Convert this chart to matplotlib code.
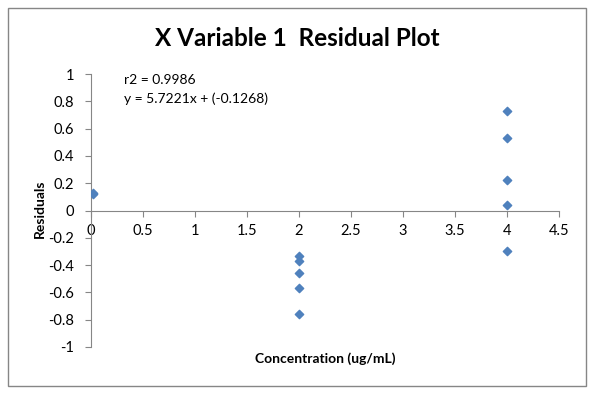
import matplotlib.pyplot as plt
from matplotlib.patches import Rectangle

plt.rcParams['font.family'] = ['Lato', 'DejaVu Sans']

# data
conc = [0.02, 0.02, 2, 2, 2, 2, 2, 4, 4, 4, 4, 4]
resid = [0.12, 0.13, -0.33, -0.37, -0.46, -0.57, -0.76, 0.73, 0.53, 0.22, 0.04, -0.30]
xticks = [0, 0.5, 1, 1.5, 2, 2.5, 3, 3.5, 4, 4.5]
yticks = [-1, -0.8, -0.6, -0.4, -0.2, 0, 0.2, 0.4, 0.6, 0.8, 1]

fig = plt.figure(figsize=(5.94, 3.95), dpi=100)
fig.patches.append(Rectangle((8 / 594, 9 / 395), 578 / 594, 378 / 395,
                             transform=fig.transFigure, fill=False,
                             edgecolor='#868686', linewidth=1))

ax = fig.add_axes([91 / 594, 1 - 347 / 395, 468 / 594, 273 / 395])
ax.scatter(conc, resid, marker='D', s=18, color='#4F81BD', zorder=3)

ax.set_xlim(0, 4.5)
ax.set_ylim(-1, 1)
ax.set_xticks(xticks)
ax.set_xticklabels([f'{t:g}' for t in xticks])
ax.set_yticks(yticks)
ax.set_yticklabels([f'{t:g}' for t in yticks])

ax.spines['top'].set_visible(False)
ax.spines['right'].set_visible(False)
ax.spines['bottom'].set_position(('data', 0))
for s in ('left', 'bottom'):
    ax.spines[s].set_color('#868686')
    ax.spines[s].set_linewidth(0.8)
ax.tick_params(axis='both', direction='out', length=4, color='#868686',
               labelsize=10.5)
ax.tick_params(axis='y', pad=8)
ax.tick_params(axis='x', pad=6)

fig.text(0.5, 1 - 39 / 395, 'X Variable 1  Residual Plot', ha='center', va='center',
         fontsize=17.5, fontweight='bold')
fig.text(325 / 594, 1 - 359 / 395, 'Concentration (ug/mL)', ha='center', va='center',
         fontsize=10, fontweight='bold')
fig.text(40 / 594, 1 - 209 / 395, 'Residuals', ha='center', va='center',
         rotation=90, fontsize=10, fontweight='bold')
fig.text(124 / 594, 1 - 80 / 395, 'r2 = 0.9986', ha='left', va='center', fontsize=10)
fig.text(124 / 594, 1 - 99 / 395, 'y = 5.7221x + (-0.1268)', ha='left', va='center',
         fontsize=10)

fig.savefig('out.png', dpi=100)
